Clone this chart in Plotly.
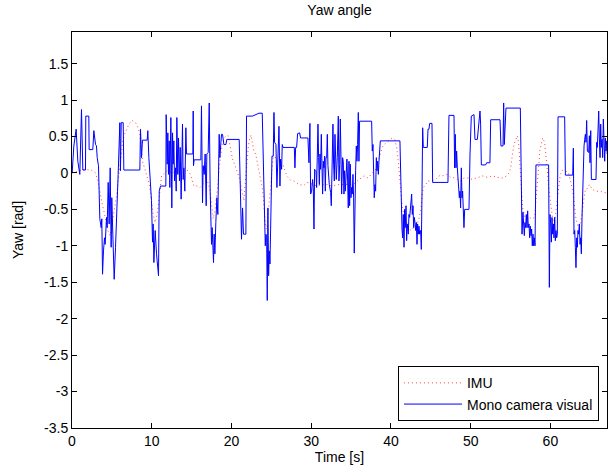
import plotly.graph_objects as go

# ---- Mono camera visual (blue) ----
cam_t = [0.00, 0.02, 0.23, 0.52, 0.73, 0.98, 1.19, 1.36, 1.69, 1.73, 2.11, 2.15, 2.61, 2.74, 2.95, 3.07, 3.16, 3.32,
         3.49, 3.66, 3.74, 3.83, 3.95, 4.08, 4.16, 4.33, 4.41, 4.54, 4.66, 4.79, 4.91, 4.99, 5.12, 5.29, 5.46, 5.58,
         5.71, 5.79, 5.92, 6.00, 6.08, 6.17, 6.42, 6.50, 8.51, 8.59, 8.72, 8.84, 9.43, 9.51, 9.64, 9.85, 9.97, 10.10,
         10.18, 10.27, 10.43, 10.60, 10.85, 10.94, 11.10, 11.77,
         11.81, 11.94, 12.02, 12.10, 12.19, 12.27, 12.40, 12.52, 12.61, 12.69, 12.77, 12.86, 12.98, 13.07, 13.15,
         13.27, 13.36, 13.48, 13.57, 13.69, 13.78, 13.86, 13.94, 14.03, 14.15, 14.28, 14.36, 15.16, 15.20, 15.24,
         15.32, 16.16, 16.24, 16.37, 16.45, 16.58, 16.70, 16.83, 16.91, 17.08, 17.21, 17.33, 17.42, 17.50, 17.58,
         17.67, 17.75, 17.83, 17.92, 18.04, 18.17, 18.29, 18.38, 18.46, 18.54, 18.63, 18.75, 18.88, 19.05, 19.30,
         19.42, 20.97, 21.14, 21.26, 21.39, 21.51, 21.81, 21.89, 22.64,
         23.45, 23.86, 24.16, 24.24, 24.32, 24.41, 24.49, 24.57, 24.66, 24.74, 24.83, 24.91, 24.99, 25.08, 25.24,
         25.33, 25.41, 25.58, 25.70, 25.83, 25.96, 26.08, 26.16, 26.29, 26.37, 26.46, 27.88, 27.96, 28.05, 28.17,
         28.30, 28.55, 28.67, 29.59, 29.72, 29.84, 29.93, 30.05, 30.18, 30.26, 30.35, 30.43, 30.60, 30.68, 30.76,
         30.85, 30.93, 31.02, 31.10, 31.18, 31.27, 31.35, 31.43, 31.52, 31.60, 31.69, 31.77, 31.85, 31.94, 32.02,
         32.10, 32.27, 32.44, 32.52, 32.65, 32.73, 32.81, 32.90, 32.98, 33.07, 33.15, 33.27, 33.40, 33.48, 33.57,
         33.65, 33.73, 33.82, 33.94,
         34.02, 34.11, 34.19, 34.28, 34.40, 34.48, 34.57, 34.65, 34.74, 34.82, 34.90, 34.99, 35.07, 35.15, 35.24,
         35.32, 35.40, 35.49, 35.57, 35.66, 35.74, 35.82, 35.91, 35.99, 36.07, 37.58, 37.66, 37.75, 37.83, 37.91,
         38.00, 38.08, 38.17, 38.25, 38.33, 38.42, 38.50, 38.58, 38.67, 41.13, 41.26, 41.39, 41.47, 41.55, 41.64,
         41.72, 41.80, 41.89, 41.97, 42.05, 42.18, 42.26, 42.35, 42.43, 42.51, 42.60, 42.68, 42.77, 42.85, 42.93,
         43.02, 43.10, 43.19, 43.27, 43.35, 43.44, 43.52, 43.60, 43.73, 43.81, 43.90, 43.98, 44.06, 44.56, 44.65,
         44.77, 44.86, 45.15, 45.23,
         47.15, 47.28, 47.91, 47.99, 48.07, 48.16, 48.24, 48.33, 48.41, 48.49, 48.58, 48.66, 48.74, 48.83, 48.91,
         48.99, 49.08, 49.16, 49.25, 49.79, 49.92, 50.08, 50.42, 50.54, 50.84, 50.96, 51.17, 51.25, 51.34, 51.88,
         52.01, 52.42, 52.51, 53.68, 53.80, 54.06, 54.14, 54.22, 54.43, 56.23,
         56.35, 56.44, 56.56, 56.65, 56.73, 56.81, 56.90, 56.98, 57.07, 57.15, 57.23, 57.32, 57.40, 57.48, 57.57,
         57.65, 57.73, 57.82, 57.90, 57.99, 58.07, 58.19, 59.78, 59.87, 59.95, 60.04, 60.12, 60.20, 60.29, 60.37,
         60.45, 60.54, 60.62, 60.70, 60.79, 60.87, 60.96, 61.79, 61.88, 62.80, 62.88, 62.96, 63.05, 63.13, 63.21,
         63.30, 63.38, 63.46, 63.55, 63.63, 63.72, 63.80, 63.88, 63.97, 64.05, 64.14, 64.22, 64.30, 64.39, 64.47,
         64.55, 64.64, 64.72, 64.80, 64.89, 64.97, 65.06, 65.14, 65.72, 65.81, 65.89, 65.97, 66.06, 66.14, 66.23,
         66.31, 66.39, 66.48, 66.56, 66.64, 66.73, 66.81, 66.89, 66.98, 67.06, 67.14, 67.23]
cam_yaw = [0.02, 0.00, 0.37, 0.60, 0.16, -0.02, 0.87, 0.04, 0.04, 0.78, 0.78, 0.32, 0.32, 0.58, 0.39, 0.37, 0.21, 0.10,
           -0.63, -0.75, -0.63, -1.39, -1.07, -0.89, -0.98, -0.61, -0.75, -0.13, -0.70, 0.07, -1.02, -0.34, -0.84,
           -1.46, -1.02, -0.48, -0.25, -0.02, 0.30, 0.69, 0.03, 0.69, 0.69, 0.04, 0.04, 0.60, 0.21, 0.45, 0.45, 0.58,
           0.21, -0.11, -0.38, -0.95, -0.70, -1.23, -0.79, -1.11, -1.41, -0.25, -0.18, -0.18,
           0.80, 0.12, 0.55, -0.02, 0.44, -0.20, 0.76, -0.48, 0.55, 0.12, 0.44, -0.11, 0.07, -0.25, 0.76,
           -0.02, 0.48, -0.11, 0.35, -0.36, 0.21, 0.67, -0.09, 0.07, -0.25, 0.62, 0.26, 0.26, 0.85, 0.10,
           0.18, 0.18, 0.92, -0.41, 0.10, -0.02, 0.26, -0.45, 0.26, 0.28, 0.96, -0.25, -0.52, -0.98, -0.75,
           -1.07, -1.23, -0.84, -1.11, -0.68, -0.34, -0.57, 0.21, 0.53, 0.21, 0.39, 0.53, 0.53, 0.39, 0.39,
           0.46, 0.46, -0.45, -0.91, -0.48, -0.84, -0.84, 0.78, 0.78,
           0.82, 0.82, -0.84, -1.00, -0.84, -0.89, -1.75, -0.48, -1.41, -1.07, -1.25, -0.66, -0.11, 0.23, 0.23,
           0.83, 0.42, 0.39, -0.20, 0.12, 0.64, -0.18, 0.19, 0.05, 0.39, 0.35, 0.35, 0.07, 0.35, 0.35,
           0.54, 0.55, 0.48, 0.48, 0.14, 0.68, -0.29, -0.25, -0.09, -0.20, -0.77, 0.05, 0.03, -0.20, 0.10,
           0.67, 0.21, -0.16, 0.26, 0.05, 0.53, 0.03, -0.29, 0.16, 0.07, 0.23, -0.25, 0.21, 0.21, 0.53,
           0.10, -0.16, -0.27, -0.45, 0.28, 0.67, 0.12, -0.11, 0.53, -0.02, -0.09, 0.21, 0.78, -0.11, 0.12,
           0.74, -0.06, -0.29, 0.21,
           0.16, -0.29, 0.03, -0.25, -0.06, 0.19, -0.11, -0.48, 0.16, -0.45, 0.12, -0.34, -0.20, -0.29, -0.02,
           -0.34, -1.10, -0.13, 0.03, 0.37, 0.16, 0.39, 0.83, 0.16, 0.71, 0.71, 0.30, 0.39, -0.16, -0.34,
           -0.16, -0.25, 0.21, 0.03, 0.16, -0.02, 0.16, 0.35, 0.44, 0.44, -0.29, -0.77, -0.89, -0.57, -1.02,
           -0.50, -0.75, -0.45, -0.93, -0.70, -0.84, -0.57, -0.61, -0.52, -0.43, -0.29, -0.57, -0.45, -0.75, -0.61,
           -0.68, -0.79, -0.68, -0.98, -0.70, -0.84, -0.73, -0.84, -0.79, -1.05, -0.25, 0.62, 0.35, 0.35, 0.60,
           0.60, 0.68, 0.68, -0.13,
           -0.13, 0.79, 0.79, 0.07, 0.53, 0.07, 0.30, 0.07, -0.11, -0.20, -0.34, -0.25, -0.48, 0.07, -0.34,
           -0.25, -0.61, -0.75, -0.50, -0.50, 0.26, 0.78, 0.80, 0.46, 0.46, 0.62, 0.85, 0.67, 0.11, 0.11,
           0.14, 0.14, 0.73, 0.73, 0.37, 0.37, 0.96, 0.39, 0.89, 0.89,
           -0.57, -0.84, -0.54, -0.75, -0.86, -0.68, -0.75, -0.57, -0.75, -0.52, -0.75, -0.70, -0.89, -0.73, -0.86,
           -0.77, -1.00, -0.84, -1.00, -0.89, -1.00, 0.11, 0.11, -1.57, -0.57, -0.70, -0.95, -0.61, -0.84, -0.70,
           -0.89, -0.61, -0.93, -0.79, -0.89, -0.84, 0.77, 0.77, -0.03, -0.03, 0.34, -0.84, -0.79, -1.02, -1.30,
           -0.89, -1.02, -0.79, -0.84, -0.70, -0.98, -0.89, -1.11, -0.61, -0.20, 0.21, 0.37, 0.46, 0.53, 0.42,
           0.72, 0.30, 0.28, 0.28, 0.51, 0.14, 0.58, -0.09, -0.09, 0.42, 0.35, 0.58, 0.85, 0.48, 0.21,
           0.67, 0.35, 0.46, 0.21, 0.74, 0.37, 0.16, 0.48, 0.30, 0.44, 0.26, 0.46]

# ---- IMU (red dotted) ----
imu_t = [0.00, 0.80, 1.60, 2.40, 2.95, 3.24, 3.49, 3.66, 3.83, 3.99, 4.12, 4.33, 4.49, 4.75, 4.91, 5.16, 5.37, 5.50,
         5.67, 5.79, 6.00, 6.21, 6.38, 6.59, 6.84, 7.13, 7.55, 7.97, 8.30, 8.51, 8.68, 8.84, 9.09, 9.30, 9.51,
         9.76, 10.02, 10.18, 10.43, 10.60, 10.77, 10.94, 11.10, 11.23, 11.43, 11.94, 12.56, 13.19, 13.82, 14.36,
         14.86, 15.28, 15.70, 16.04, 16.45, 16.96, 17.29, 17.46, 17.58, 17.71, 17.92, 18.13, 18.29, 18.46, 18.63,
         18.84, 19.05, 19.30, 19.59, 19.88, 20.13, 20.38, 20.72, 20.97, 21.14, 21.35, 21.56, 21.64, 21.81, 21.97,
         22.14, 22.31, 22.45, 22.61, 22.82, 23.03, 23.24, 23.45, 23.65, 23.86, 23.99, 24.07, 24.16, 24.28, 24.41,
         24.57, 24.74, 24.91, 25.08, 25.24, 25.41, 25.75, 26.16, 26.50, 26.71, 27.00, 27.42, 27.84, 28.46, 29.09,
         29.51, 30.14, 30.76, 31.39, 32.02, 32.65, 33.27, 33.90, 34.53, 35.36, 35.78, 36.20, 36.62, 37.12, 37.54,
         37.87, 38.08, 38.29, 38.50, 38.71, 38.92, 39.13, 39.38, 39.63, 40.05, 40.47, 40.72, 40.88, 41.01, 41.13,
         41.30, 41.43, 41.64, 41.85, 42.05, 42.26, 42.56, 42.89, 43.23, 43.52, 43.73, 43.90, 44.06, 44.35, 44.65,
         44.98, 45.61, 46.03, 46.44, 47.07, 47.49, 48.12, 48.74, 49.16, 49.79, 50.21, 50.84, 51.46, 52.09, 52.72,
         53.34, 53.97, 54.52, 54.81, 55.02, 55.14, 55.27, 55.44, 55.64, 55.85, 56.02, 56.15, 56.28, 56.40, 56.52,
         56.86, 57.27, 57.69, 58.03, 58.19, 58.36, 58.53, 58.70, 58.86, 59.03, 59.28, 59.45, 59.62, 59.78, 59.95,
         60.12, 60.29, 60.54, 60.70, 60.87, 61.04, 61.25, 61.54, 61.88, 62.29, 62.50, 62.71, 62.92, 63.05, 63.21,
         63.46, 63.63, 63.80, 63.97, 64.18, 64.39, 64.60, 64.89, 65.22, 65.64, 66.27, 66.69, 67.23]
imu_yaw = [0.00, 0.03, 0.05, 0.04, 0.00, -0.11, -0.27, -0.35, -0.45, -0.52, -0.61, -0.70, -0.79, -0.86, -0.79, -0.63,
           -0.48, -0.36, -0.25, -0.11, 0.07, 0.30, 0.44, 0.53, 0.60, 0.67, 0.72, 0.69, 0.62, 0.53, 0.35, 0.16, 0.07,
           0.00, -0.09, -0.20, -0.43, -0.57, -0.68, -0.61, -0.50, -0.34, -0.16, -0.04, -0.02, 0.03, 0.00, 0.03, 0.00,
           0.05, -0.02, -0.18, -0.18, -0.20, -0.15, -0.10, -0.22, -0.38, -0.57, -0.63, -0.52, -0.34, -0.16, 0.07,
           0.26, 0.39, 0.48, 0.51, 0.51, 0.32, 0.19, 0.12, 0.03, -0.06, -0.16, -0.29, -0.38, -0.25, -0.02, 0.26,
           0.39, 0.48, 0.52, 0.42, 0.30, 0.26, 0.14, 0.05, -0.06, -0.20, -0.34, -0.50, -0.61, -0.75, -0.77, -0.61,
           -0.38, -0.20, 0.05, 0.21, 0.23, 0.16, 0.12, 0.10, 0.03, -0.05, -0.10, -0.11, -0.16, -0.17, -0.13, -0.16,
           -0.18, -0.16, -0.16, -0.18, -0.16, -0.16, -0.16, -0.15, -0.11, -0.07, -0.04, -0.07, -0.02, 0.03, 0.05,
           0.12, 0.21, 0.30, 0.35, 0.39, 0.41, 0.44, 0.47, 0.46, 0.35, 0.21, 0.03, -0.18, -0.34, -0.48, -0.57,
           -0.63, -0.70, -0.77, -0.79, -0.75, -0.70, -0.63, -0.52, -0.34, -0.20, -0.16, -0.11, -0.11, -0.09, -0.04,
           -0.04, -0.02, -0.06, -0.07, -0.11, -0.07, -0.07, -0.09, -0.06, -0.04, -0.06, -0.04, -0.06, -0.07, -0.04,
           0.00, 0.07, 0.19, 0.28, 0.39, 0.46, 0.51, 0.40, 0.20, -0.05, -0.28, -0.48, -0.63, -0.61, -0.63, -0.61,
           -0.38, -0.11, 0.14, 0.32, 0.39, 0.48, 0.42, 0.26, 0.03, -0.20, -0.38, -0.50, -0.63, -0.68, -0.52, -0.34,
           -0.18, -0.02, 0.04, 0.03, 0.00, -0.09, -0.20, -0.34, -0.50, -0.63, -0.73, -0.75, -0.68, -0.57, -0.38,
           -0.22, -0.22, -0.16, -0.22, -0.25, -0.25, -0.27, -0.27]

x_ticks = [0, 10, 20, 30, 40, 50, 60]
x_tick_labels = ["0", "10", "20", "30", "40", "50", "60"]
y_ticks = [-3.5, -3, -2.5, -2, -1.5, -1, -0.5, 0, 0.5, 1, 1.5]
y_tick_labels = ["-3.5", "-3", "-2.5", "-2", "-1.5", "-1", "-0.5", "0", "0.5", "1", "1.5"]

FONT = "Liberation Sans, Arial, Helvetica, sans-serif"

fig = go.Figure()
fig.add_trace(go.Scatter(x=imu_t, y=imu_yaw, mode="lines", name="IMU",
                         line=dict(color="rgba(255,0,0,0.75)", width=1, dash="1px,3px")))
fig.add_trace(go.Scatter(x=cam_t, y=cam_yaw, mode="lines", name="Mono camera visual",
                         line=dict(color="rgb(0,0,255)", width=1.0)))

axis_common = dict(showline=True, linecolor="black", linewidth=1, mirror="allticks",
                   ticks="inside", ticklen=5, tickcolor="black", tickwidth=1,
                   showgrid=False, zeroline=False, automargin=False,
                   tickfont=dict(family=FONT, size=14, color="black"),
                   title_font=dict(family=FONT, size=14, color="black"))

fig.update_layout(
    width=611, height=469,
    margin=dict(l=72, r=4, t=32, b=41),
    paper_bgcolor="white", plot_bgcolor="white",
    font=dict(family=FONT, size=14, color="black"),
    title=dict(text="Yaw angle", x=0.5, xref="paper", y=1 - 10 / 469, yref="container",
               xanchor="center", yanchor="middle", font=dict(family=FONT, size=14, color="black")),
    xaxis=dict(range=[0, 67.1], tickvals=x_ticks, ticktext=x_tick_labels,
               title=dict(text="Time [s]", standoff=3), **axis_common),
    yaxis=dict(range=[-3.5, 1.934], tickvals=y_ticks, ticktext=y_tick_labels,
               title=dict(text="Yaw [rad]", standoff=17), **axis_common),
    legend=dict(x=0.985, y=0.017, xanchor="right", yanchor="bottom",
                bgcolor="white", bordercolor="black", borderwidth=1,
                font=dict(family=FONT, size=14, color="black"),
                tracegroupgap=0, itemwidth=58),
    showlegend=True,
)

fig.write_html("out.html", config={"displayModeBar": False},
               post_script="document.body.style.margin='0px';")
